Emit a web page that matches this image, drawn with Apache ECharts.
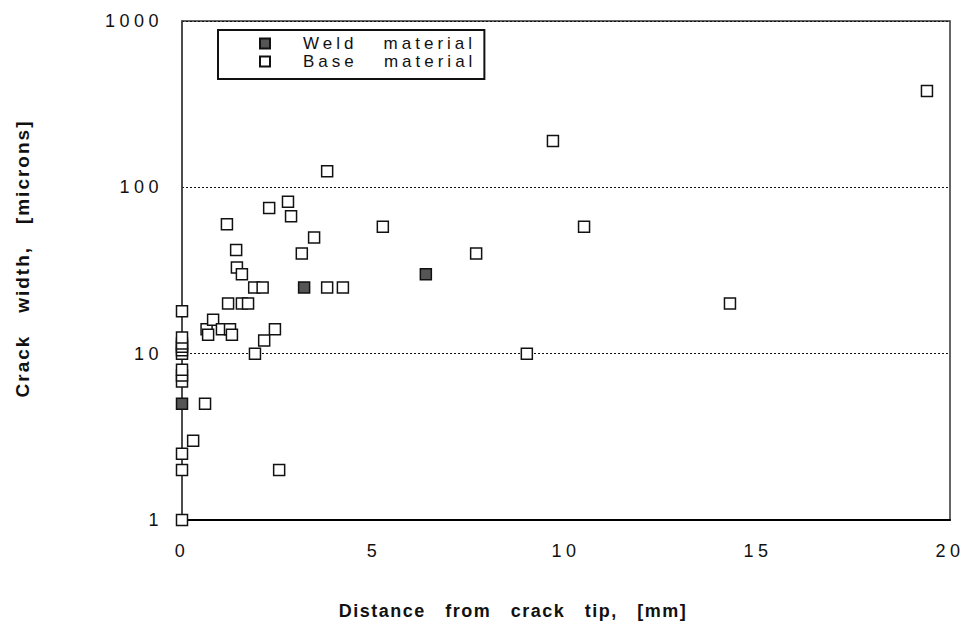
<!DOCTYPE html>
<html>
<head>
<meta charset="utf-8">
<script src="https://cdn.jsdelivr.net/npm/echarts@6/dist/echarts.min.js"></script>
<style>
  html, body { margin: 0; padding: 0; background: #fff; }
  #chart { width: 968px; height: 625px; }
  /* old plotter-style wide lettering */
  #chart svg text[style*="18px"] { letter-spacing: 4.5px; }
  #chart svg text[style*="17px"] { letter-spacing: 4px; }
  #chart svg text[style*="bold"] { letter-spacing: 1.5px; }
  #chart svg text[style*="19px"] { letter-spacing: 2px; }
</style>
</head>
<body>
<div id="chart"></div>
<script>
// Distance from crack tip [mm] and crack width [microns]
const weldX = [0, 3.18, 6.35];
const weldY = [5, 25, 30];

const baseX = [
  0, 0, 0, 0, 0, 0, 0, 0, 0, 0, 0, 0,
  0.29, 0.6, 2.53,
  0.64, 0.68, 0.81, 1.04, 1.25, 1.3, 2.42, 2.14, 1.9,
  1.2, 1.56, 1.72,
  1.88, 2.1,
  1.41, 1.43, 1.56,
  1.17, 2.27, 2.76, 2.84,
  3.78, 5.23, 3.44, 3.12,
  3.78, 4.19,
  9.66, 10.47, 7.66, 14.27, 8.98, 19.4
];
const baseY = [
  1, 2, 2.5, 6.8, 7.4, 8, 10, 10.5, 11, 11.5, 12.5, 18,
  3, 5, 2,
  14, 13, 16, 14, 14, 13, 14, 12, 10,
  20, 20, 20,
  25, 25,
  42, 33, 30,
  60, 75, 82, 67,
  125, 58, 50, 40,
  25, 25,
  190, 58, 40, 20, 10, 380
];

const xTicks = [0, 5, 10, 15, 20];
const yTicks = [1, 10, 100, 1000];

const seriesNames = ['Weld material', 'Base material'];
const xTitle = 'Distance   from   crack   tip,   [mm]';
const yTitle = 'Crack   width,   [microns]';

const pairs = (xs, ys) => xs.map((x, i) => [x, ys[i]]);

const chart = echarts.init(document.getElementById('chart'), null, { renderer: 'svg' });

const fam = 'Liberation Sans, Arial, sans-serif';
const tickFont = { fontFamily: fam, fontSize: 18, color: '#111', formatter: v => String(v) };

chart.setOption({
  animation: false,
  backgroundColor: '#fff',
  grid: {
    left: 182, right: 18, top: 21, bottom: 102,
    show: true, borderColor: '#333', borderWidth: 1.5, backgroundColor: 'transparent'
  },
  legend: {
    left: 218, top: 30,
    orient: 'vertical',
    itemWidth: 10, itemHeight: 10, itemGap: 1,
    padding: [5, 68, 9, 41],
    borderColor: '#111', borderWidth: 2,
    data: seriesNames,
    formatter: name => '{t|' + name.replace(' ', '   ') + '}',
    textStyle: {
      rich: {
        t: { fontFamily: fam, fontSize: 17, color: '#111', padding: [0, 0, 0, 28] }
      }
    }
  },
  xAxis: {
    type: 'value',
    min: xTicks[0], max: xTicks[xTicks.length - 1], interval: 5,
    name: xTitle,
    nameLocation: 'middle', nameGap: 82,
    nameTextStyle: { fontFamily: fam, fontSize: 18, fontWeight: 'bold', color: '#111', padding: [0, 106, 0, 0] },
    axisLine: { show: true, lineStyle: { color: '#000', width: 2 } },
    axisTick: { show: false },
    splitLine: { show: false },
    axisLabel: Object.assign({ margin: 22 }, tickFont)
  },
  yAxis: {
    type: 'log', logBase: 10,
    min: yTicks[0], max: yTicks[yTicks.length - 1],
    name: yTitle,
    nameLocation: 'middle', nameGap: 150,
    nameTextStyle: { fontFamily: fam, fontSize: 19, fontWeight: 'bold', color: '#111', padding: [0, 0, 0, 24] },
    axisLine: { show: true, lineStyle: { color: '#444', width: 1.5 } },
    axisTick: { show: false },
    splitLine: { show: true, lineStyle: { color: '#111', width: 1, type: [2, 2] } },
    axisLabel: Object.assign({ margin: 19 }, tickFont)
  },
  series: [
    {
      name: seriesNames[0],
      type: 'scatter',
      symbol: 'rect', symbolSize: 11,
      data: pairs(weldX, weldY),
      itemStyle: { color: '#555', borderColor: '#111', borderWidth: 1.5, opacity: 1 },
      z: 3
    },
    {
      name: seriesNames[1],
      type: 'scatter',
      symbol: 'rect', symbolSize: 11,
      data: pairs(baseX, baseY),
      itemStyle: { color: '#fff', borderColor: '#111', borderWidth: 1.5, opacity: 1 },
      z: 2
    }
  ]
});
</script>
</body>
</html>
